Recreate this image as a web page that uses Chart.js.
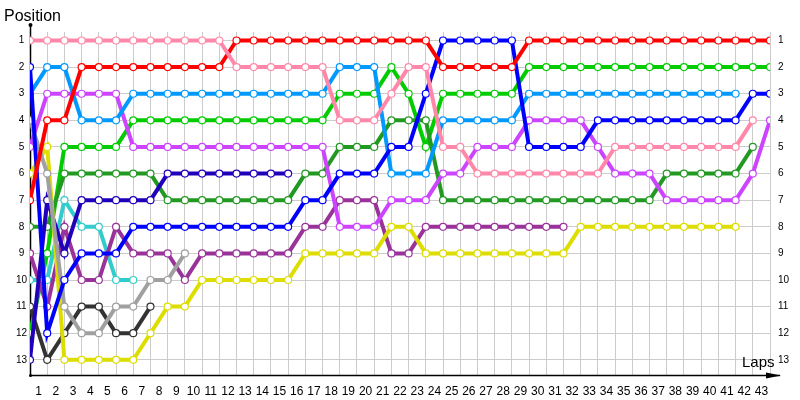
<!DOCTYPE html>
<html>
<head>
<meta charset="utf-8">
<script src="https://cdn.jsdelivr.net/npm/chart.js@4.4.1/dist/chart.umd.min.js"></script>
<style>
  html, body { margin: 0; padding: 0; background: #fff; }
  #wrap { width: 800px; height: 400px; }
</style>
</head>
<body>
<div id="wrap"><canvas id="lap-chart"></canvas></div>
<script>
// lap labels (shown between grid lines) and positions
const lapLabels = ['1','2','3','4','5','6','7','8','9','10','11','12','13','14','15','16','17','18','19','20',
  '21','22','23','24','25','26','27','28','29','30','31','32','33','34','35','36','37','38','39','40','41','42','43'];
const positions = [1,2,3,4,5,6,7,8,9,10,11,12,13];

// position of each car, index 0 = start grid, then lap 1, 2, ...
const pink      = [1,1,1,1,1,1,1,1,1,1,1,1,2,2,2,2,2,2,4,4,4,3,2,2,5,5,6,6,6,6,6,6,6,6,5,5,5,5,5,5,5,5,4];
const red       = [7,4,4,2,2,2,2,2,2,2,2,2,1,1,1,1,1,1,1,1,1,1,1,1,2,2,2,2,2,1,1,1,1,1,1,1,1,1,1,1,1,1,1,1];
const blue      = [2,12,10,9,9,9,8,8,8,8,8,8,8,8,8,8,7,7,6,6,6,5,5,3,1,1,1,1,1,5,5,5,5,4,4,4,4,4,4,4,4,4,3,3];
const lightBlue = [3,2,2,4,4,4,3,3,3,3,3,3,3,3,3,3,3,3,2,2,2,6,6,6,4,4,4,4,4,3,3,3,3,3,3,3,3,3,3,3,3,3];
const gray      = [4,6,11,12,12,11,11,10,10,9];
const violet    = [5,3,3,3,3,3,5,5,5,5,5,5,5,5,5,5,5,5,8,8,8,7,7,7,6,6,5,5,5,4,4,4,4,5,6,6,6,7,7,7,7,7,6,4];
const yellow    = [6,5,13,13,13,13,13,12,11,11,10,10,10,10,10,10,9,9,9,9,9,8,8,9,9,9,9,9,9,9,9,9,8,8,8,8,8,8,8,8,8,8];
const navy      = [13,7,9,7,7,7,7,7,6,6,6,6,6,6,6,6];
const darkGreen = [8,8,6,6,6,6,6,6,7,7,7,7,7,7,7,7,6,6,5,5,5,4,4,4,7,7,7,7,7,7,7,7,7,7,7,7,7,6,6,6,6,6,5];
const purple    = [9,11,8,10,10,8,9,9,9,10,9,9,9,9,9,9,8,8,7,7,7,9,9,8,8,8,8,8,8,8,8,8];
const cyan      = [10,10,7,8,8,10,10];
const darkGray  = [11,13,12,11,11,12,12,11];
const green     = [12,9,5,5,5,5,4,4,4,4,4,4,4,4,4,4,4,4,3,3,3,2,3,5,3,3,3,3,3,2,2,2,2,2,2,2,2,2,2,2,2,2,2,2];

const cars = [
  { data: pink, color: '#ff88aa' },
  { data: red, color: '#ff0000' },
  { data: blue, color: '#0000ff' },
  { data: lightBlue, color: '#0099ff' },
  { data: gray, color: '#a0a0a0' },
  { data: violet, color: '#cc44ff' },
  { data: yellow, color: '#dddd00' },
  { data: navy, color: '#2200bb' },
  { data: darkGreen, color: '#229922' },
  { data: purple, color: '#993399' },
  { data: cyan, color: '#33cccc' },
  { data: darkGray, color: '#333333' },
  { data: green, color: '#00cc00' }
];

const datasets = cars.map(car => ({
  data: car.data.map((pos, lap) => ({ x: lap, y: pos })),
  borderColor: car.color,
  backgroundColor: '#ffffff',
  borderWidth: 4,
  pointRadius: 3.5,
  pointBorderWidth: 1.2,
  pointBorderColor: car.color,
  pointBackgroundColor: '#ffffff',
  tension: 0
}));

// black axes with little arrow ends + the two axis captions
const axisLines = {
  id: 'axisLines',
  beforeDatasetsDraw(chart) {
    const { ctx, chartArea: a } = chart;
    const left = Math.round(a.left) + 0.5;
    const bottom = Math.round(a.bottom) + 0.5;
    ctx.save();
    ctx.strokeStyle = '#000';
    ctx.fillStyle = '#000';
    ctx.lineWidth = 1.5;
    ctx.beginPath();
    ctx.moveTo(left, 25);
    ctx.lineTo(left, bottom);
    ctx.lineTo(780, bottom);
    ctx.stroke();
    ctx.beginPath();
    ctx.arc(left, 25, 2, 0, Math.PI * 2);
    ctx.arc(left, bottom, 1.5, 0, Math.PI * 2);
    ctx.fill();
    ctx.beginPath();
    ctx.moveTo(781, bottom);
    ctx.lineTo(766, bottom - 3);
    ctx.lineTo(766, bottom + 3);
    ctx.closePath();
    ctx.fill();
    ctx.restore();
  },
  afterDraw(chart) {
    const { ctx } = chart;
    ctx.save();
    ctx.fillStyle = '#000';
    ctx.textBaseline = 'alphabetic';
    ctx.font = '16px "Liberation Sans", Arial, sans-serif';
    ctx.fillText('Position', 4, 21);
    ctx.font = '15px "Liberation Sans", Arial, sans-serif';
    ctx.fillText('Laps', 742, 367);
    ctx.restore();
  }
};

const yTicks = (scale) => { scale.ticks = positions.map(v => ({ value: v })); };

new Chart(document.getElementById('lap-chart'), {
  type: 'line',
  data: { datasets },
  plugins: [axisLines],
  options: {
    responsive: true,
    maintainAspectRatio: false,
    animation: false,
    events: [],
    layout: { padding: { top: 32, left: 0, right: 0, bottom: 0 } },
    plugins: { legend: { display: false }, tooltip: { enabled: false } },
    scales: {
      x: {
        type: 'linear',
        min: 0,
        max: 43,
        position: 'bottom',
        ticks: { display: false, stepSize: 1 },
        grid: { color: '#cccccc', drawTicks: false },
        border: { display: false },
        afterFit: (scale) => { scale.height = 0; }
      },
      xLabels: {
        type: 'linear',
        min: 0,
        max: 43,
        position: 'bottom',
        afterBuildTicks: (scale) => { scale.ticks = lapLabels.map((t, i) => ({ value: i + 0.5 })); },
        ticks: {
          autoSkip: false,
          maxRotation: 0,
          padding: 1,
          color: '#000',
          font: { family: '"Liberation Sans", Arial, sans-serif', size: 12 },
          callback: (v, i) => lapLabels[i]
        },
        grid: { display: false },
        border: { display: false },
        afterFit: (scale) => { scale.height = 25; }
      },
      y: {
        type: 'linear',
        reverse: true,
        min: 0.68,
        max: 13.57,
        position: 'left',
        afterBuildTicks: yTicks,
        ticks: {
          autoSkip: false,
          crossAlign: 'center',
          color: '#000',
          font: { family: '"Liberation Sans", Arial, sans-serif', size: 10 },
          callback: (v) => String(v)
        },
        grid: { color: '#cccccc', drawTicks: false },
        border: { display: false },
        afterFit: (scale) => { scale.width = 30; }
      },
      yRight: {
        type: 'linear',
        reverse: true,
        min: 0.68,
        max: 13.57,
        position: 'right',
        afterBuildTicks: yTicks,
        ticks: {
          autoSkip: false,
          padding: 0,
          color: '#000',
          font: { family: '"Liberation Sans", Arial, sans-serif', size: 10 },
          callback: (v) => String(v)
        },
        grid: { display: false },
        border: { display: false },
        afterFit: (scale) => { scale.width = 30; }
      }
    }
  }
});
</script>
</body>
</html>
